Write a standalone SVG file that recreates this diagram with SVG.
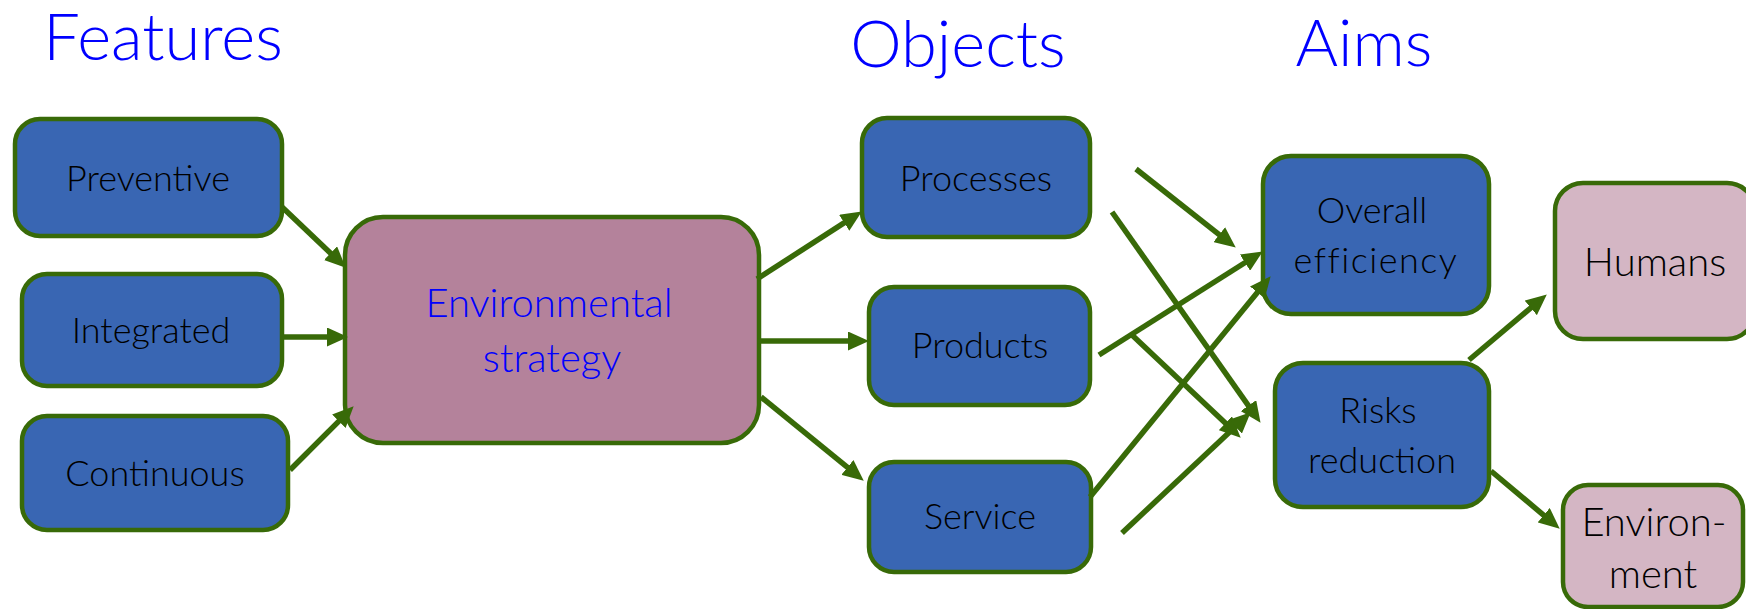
<svg xmlns="http://www.w3.org/2000/svg" width="1746" height="609" viewBox="0 0 1746 609">
<style>
.hdr{font-family:Lato,"Open Sans","Liberation Sans",sans-serif;font-weight:300;font-size:65px;fill:#0000FF;text-anchor:middle}
.lbl{font-family:Lato,"Open Sans","Liberation Sans",sans-serif;font-weight:300;font-size:36px;fill:#000000;text-anchor:middle}
.big{font-size:40px}
.main{font-family:Lato,"Open Sans","Liberation Sans",sans-serif;font-weight:300;font-size:40px;fill:#0000FF;text-anchor:middle}
.blue{fill:#3966B3;stroke:#386A08;stroke-width:4.5}
.pink{fill:#B4829B;stroke:#386A08;stroke-width:4.5}
.lpink{fill:#D4B6C4;stroke:#386A08;stroke-width:4.5}
.conn line{stroke:#386A08;stroke-width:5.5;marker-end:url(#ah)}
</style>
<defs>
<marker id="ah" markerUnits="userSpaceOnUse" markerWidth="21" markerHeight="19" refX="10" refY="9.5" orient="auto">
<path d="M0,0 L21,9.5 L0,19 z" fill="#386A08"/>
</marker>
</defs>
<rect width="1746" height="609" fill="#FFFFFF"/>
<text class="hdr" x="163" y="60">Features</text>
<text class="hdr" x="958" y="67">Objects</text>
<text class="hdr" x="1364" y="66">Aims</text>

<g id="preventive"><rect class="blue" x="15" y="119" width="267" height="117" rx="25"/><text class="lbl" x="148" y="191">Preventive</text></g>
<g id="integrated"><rect class="blue" x="22" y="274" width="260" height="112" rx="25"/><text class="lbl" x="151" y="343">Integrated</text></g>
<g id="continuous"><rect class="blue" x="22" y="416" width="266" height="114" rx="25"/><text class="lbl" x="155" y="486">Continuous</text></g>
<g id="strategy"><rect class="pink" x="345" y="217" width="414" height="226" rx="38"/><text class="main" x="549" y="317">Environmental</text><text class="main" x="552" y="372">strategy</text></g>
<g id="processes"><rect class="blue" x="862" y="118" width="228" height="119" rx="25"/><text class="lbl" x="976" y="191">Processes</text></g>
<g id="products"><rect class="blue" x="869" y="287" width="221" height="118" rx="25"/><text class="lbl" x="980" y="358">Products</text></g>
<g id="service"><rect class="blue" x="869" y="462" width="222" height="110" rx="25"/><text class="lbl" x="980" y="529">Service</text></g>
<g id="efficiency"><rect class="blue" x="1263" y="156" width="226" height="158" rx="28"/><text class="lbl" x="1372" y="223">Overall</text><text class="lbl" x="1376" y="273" letter-spacing="1.5">efficiency</text></g>
<g id="risks"><rect class="blue" x="1275" y="363" width="214" height="144" rx="28"/><text class="lbl" x="1378" y="423">Risks</text><text class="lbl" x="1382" y="473">reduction</text></g>
<g id="humans"><rect class="lpink" x="1555" y="183" width="200" height="156" rx="28"/><text class="lbl big" x="1655" y="276">Humans</text></g>
<g id="environment"><rect class="lpink" x="1563" y="485" width="180" height="122" rx="25"/><text class="lbl big" x="1654" y="536">Environ-</text><text class="lbl big" x="1653" y="588">ment</text></g>

<g id="connectors" class="conn">
<line x1="282" y1="207" x2="337.8" y2="260.1"/>
<line x1="283" y1="337" x2="337" y2="337"/>
<line x1="290" y1="470" x2="345.9" y2="414.1"/>
<line x1="757" y1="279" x2="852.6" y2="217.4"/>
<line x1="757" y1="341" x2="858" y2="341"/>
<line x1="761" y1="397" x2="855.2" y2="473.7"/>
<line x1="1136" y1="169" x2="1227.1" y2="240.8"/>
<line x1="1112" y1="212" x2="1254.2" y2="413.8"/>
<line x1="1099" y1="355" x2="1253.5" y2="257.3"/>
<line x1="1132" y1="335" x2="1232.7" y2="430.1"/>
<line x1="1090" y1="497" x2="1263.7" y2="284.7"/>
<line x1="1122" y1="533" x2="1242.7" y2="419.8"/>
<line x1="1469" y1="360" x2="1538.4" y2="301.5"/>
<line x1="1491" y1="471" x2="1551.3" y2="521.6"/>
</g>
</svg>
